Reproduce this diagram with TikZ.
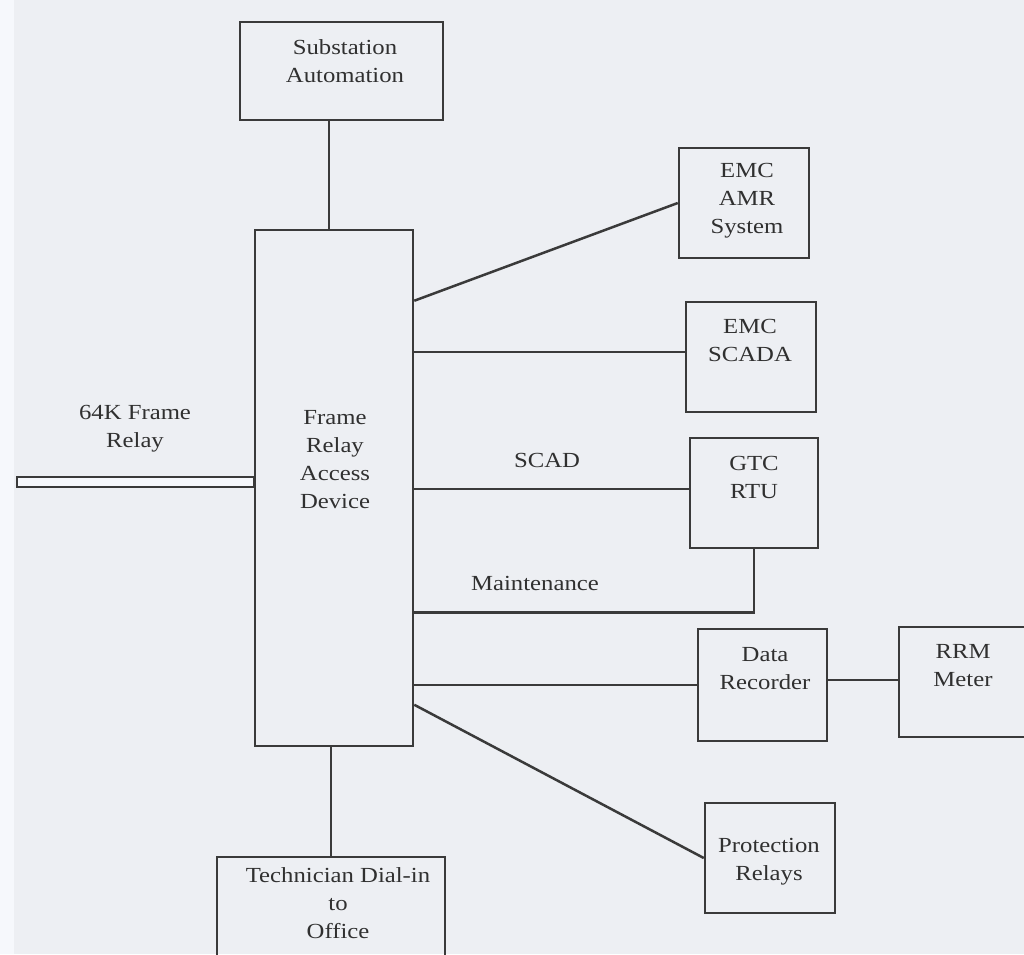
\documentclass[tikz,border=0pt]{standalone}
\usepackage{fontspec}
\setmainfont{Liberation Serif}[FakeStretch=1.15]
\usetikzlibrary{calc}
\definecolor{paper}{RGB}{237,239,243}
\definecolor{paperedge}{RGB}{246,248,252}
\definecolor{ink}{RGB}{58,58,58}
\definecolor{txt}{RGB}{48,48,48}
\begin{document}
\begin{tikzpicture}[x=1pt,y=-1pt,
  wire/.style={draw=ink,line width=2.5pt},
  unit/.style={draw=ink,line width=2.5pt,inner sep=0pt},
  caption/.style={text=txt,font=\fontsize{21.5}{28}\selectfont,align=center,inner sep=0pt}]
% page
\useasboundingbox (0,0) rectangle (1024,954);
\fill[paper] (0,0) rectangle (1024,954);
\fill[paperedge] (0,0) rectangle (14,954);
\clip (0,0) rectangle (1024,954);

% boxes
\node[unit, minimum width=203pt, minimum height=98pt]  (sub)   at (341.5,71) {};
\node[unit, minimum width=158pt, minimum height=516pt] (frad)  at (334,488) {};
\node[unit, minimum width=130pt, minimum height=110pt] (amr)   at (744,203) {};
\node[unit, minimum width=130pt, minimum height=110pt] (scada) at (751,357) {};
\node[unit, minimum width=128pt, minimum height=110pt] (gtc)   at (754,493) {};
\node[unit, minimum width=129pt, minimum height=112pt] (dr)    at (762.5,685) {};
\node[unit, minimum width=131pt, minimum height=110pt] (rrm)   at (964.5,682) {};
\node[unit, minimum width=130pt, minimum height=110pt] (prot)  at (770,858) {};
\node[unit, minimum width=228pt, minimum height=110pt] (tech)  at (331,912) {};

% box texts
\node[caption] (subT)   at (345,61)    {Substation\\Automation};
\node[caption] (fradT)  at (335,460)   {Frame\\Relay\\Access\\Device};
\node[caption] (amrT)   at (747,201)   {EMC\\AMR\\System};
\node[caption] (scadaT) at (750,340)   {EMC\\SCADA};
\node[caption] (gtcT)   at (754,477.5) {GTC\\RTU};
\node[caption] (drT)    at (765,669)   {Data\\Recorder};
\node[caption] (rrmT)   at (963,666)   {RRM\\Meter};
\node[caption] (protT)  at (769,861.5) {Protection\\Relays};
\node[caption] (techT)  at (338,903)   {Technician Dial-in\\to\\Office};

% link labels
\node[caption] (relayT) at (135,428.5) {64K Frame\\Relay};
\node[caption] (scadT)  at (547,460)   {SCAD};
\node[caption] (mntT)   at (535,583)   {Maintenance};

% incoming 64K frame relay line (double line, closed at its free end)
\coordinate (relayend) at (17,482);
\draw[wire, fill=paperedge] ($(relayend)+(0,-5)$) rectangle ($(frad.west |- relayend)+(0,5)$);

% links
\draw[wire] ($(sub.south)+(-12.5,0)$) -- ($(frad.north)+(-5,0)$);
\draw[wire] ($(frad.north east)+(0,72)$) -- (amr.west);
\draw[wire] ([yshift=5pt]scada.west) -- ([yshift=5pt]scada.west -| frad.east);
\draw[wire] ([yshift=4pt]gtc.west) -- ([yshift=4pt]gtc.west -| frad.east);
\draw[wire] (gtc.south) -- ++(0,63) coordinate (mk) -- (mk -| frad.east);
\draw[wire] (dr.west) -- (dr.west -| frad.east);
\draw[wire] ([yshift=2pt]rrm.west) -- ([yshift=2pt]rrm.west -| dr.east);
\draw[wire] ($(frad.north east)+(0,476)$) -- (prot.west);
\draw[wire] (tech.north) -- (tech.north |- frad.south);
\end{tikzpicture}
\end{document}
